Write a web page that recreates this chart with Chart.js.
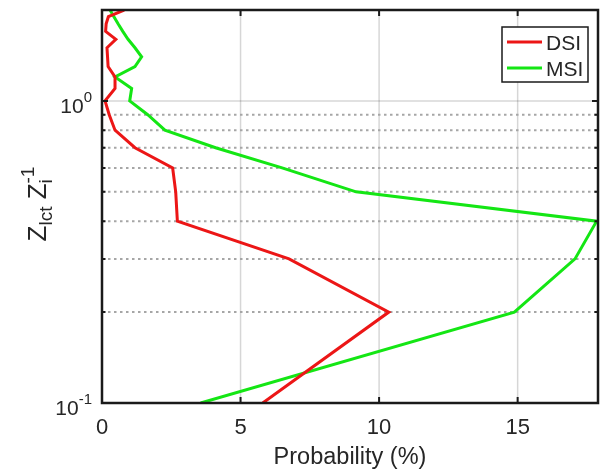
<!DOCTYPE html>
<html>
<head>
<meta charset="utf-8">
<script src="https://cdn.jsdelivr.net/npm/chart.js@4"></script>
<style>
  html, body { margin: 0; padding: 0; background: #fff; }
  #wrap { width: 600px; height: 472px; }
</style>
</head>
<body>
<div id="wrap"><canvas id="chart" width="600" height="472"></canvas></div>
<script>
// Height levels (Z_lct / Z_i), bottom to top
const levels = [0.1, 0.2, 0.3, 0.4, 0.5, 0.6, 0.7, 0.8, 0.9, 1.0,
                1.1, 1.2, 1.3, 1.4, 1.5, 1.6, 1.7, 1.8, 1.9, 2.0];
// Probability (%) at each level
const dsiValues = [5.8, 10.35, 6.75, 2.72, 2.66, 2.55, 1.19, 0.47, 0.26, 0.11,
                   0.47, 0.47, 0.22, 0.2, 0.18, 0.5, 0.13, 0.15, 0.23, 0.8];
const msiValues = [3.56, 14.88, 17.07, 17.85, 9.17, 6.5, 4.1, 2.27, 1.65, 1.0,
                   1.07, 0.47, 1.19, 1.43, 1.19, 0.94, 0.75, 0.58, 0.43, 0.29];
const seriesNames = ["DSI", "MSI"];

const xTicks = [0, 5, 10, 15];
const yMajorTicks = [0.1, 1];
const yMajorLabels = [["10", "-1"], ["10", "0"]];
const yMinorTicks = [0.2, 0.3, 0.4, 0.5, 0.6, 0.7, 0.8, 0.9];

const FONT = "'Liberation Sans', Arial, sans-serif";
const TEXT = "#262626";

function toPoints(values) {
  return values.map((v, i) => ({ x: v, y: levels[i] }));
}

const matlabAxes = {
  id: "matlabAxes",
  beforeDatasetsDraw(chart) {
    const { ctx, chartArea: a, scales: { x, y } } = chart;
    ctx.save();
    // solid grid lines
    ctx.strokeStyle = "rgba(0,0,0,0.16)";
    ctx.lineWidth = 1.5;
    xTicks.forEach((v) => {
      if (v === 0) return;
      const px = x.getPixelForValue(v);
      ctx.beginPath(); ctx.moveTo(px, a.top); ctx.lineTo(px, a.bottom); ctx.stroke();
    });
    yMajorTicks.forEach((v) => {
      const py = y.getPixelForValue(v);
      if (Math.abs(py - a.bottom) < 1) return;
      ctx.beginPath(); ctx.moveTo(a.left, py); ctx.lineTo(a.right, py); ctx.stroke();
    });
    // dotted minor grid
    ctx.strokeStyle = "#a6a6a6";
    ctx.lineWidth = 2;
    ctx.setLineDash([2.5, 3.5]);
    yMinorTicks.forEach((v) => {
      const py = y.getPixelForValue(v);
      ctx.beginPath(); ctx.moveTo(a.left, py); ctx.lineTo(a.right, py); ctx.stroke();
    });
    ctx.restore();
  },
  afterDatasetsDraw(chart) {
    const { ctx, chartArea: a, scales: { x, y } } = chart;
    ctx.save();
    // box
    ctx.strokeStyle = "#1a1a1a";
    ctx.lineWidth = 2.5;
    ctx.strokeRect(a.left, a.top, a.right - a.left, a.bottom - a.top);

    // inward ticks
    ctx.lineWidth = 2;
    xTicks.forEach((v) => {
      const px = x.getPixelForValue(v);
      ctx.beginPath();
      ctx.moveTo(px, a.bottom); ctx.lineTo(px, a.bottom - 6);
      ctx.moveTo(px, a.top); ctx.lineTo(px, a.top + 6);
      ctx.stroke();
    });
    yMajorTicks.concat(yMinorTicks).forEach((v) => {
      const py = y.getPixelForValue(v);
      const len = yMajorTicks.includes(v) ? 6 : 3.5;
      ctx.beginPath();
      ctx.moveTo(a.left, py); ctx.lineTo(a.left + len, py);
      ctx.moveTo(a.right, py); ctx.lineTo(a.right - len, py);
      ctx.stroke();
    });

    // x tick labels
    ctx.fillStyle = TEXT;
    ctx.font = "22px " + FONT;
    ctx.textAlign = "center";
    ctx.textBaseline = "alphabetic";
    xTicks.forEach((v) => {
      ctx.fillText(String(v), x.getPixelForValue(v), a.bottom + 31);
    });

    // y tick labels with superscripts
    ctx.textAlign = "left";
    yMajorTicks.forEach((v, i) => {
      const py = y.getPixelForValue(v);
      const [base, sup] = yMajorLabels[i];
      ctx.font = "15px " + FONT;
      const supW = ctx.measureText(sup).width;
      ctx.font = "21px " + FONT;
      const baseW = ctx.measureText(base).width;
      const supX = a.left - 10 - supW;
      ctx.fillText(base, supX - baseW, py + 12);
      ctx.font = "15px " + FONT;
      ctx.fillText(sup, supX, py + 1);
    });

    // x axis title
    ctx.textAlign = "center";
    ctx.font = "23.5px " + FONT;
    ctx.fillText("Probability (%)", (a.left + a.right) / 2, a.bottom + 61);

    // y axis title: Z_lct Z_i^-1
    ctx.save();
    ctx.translate(46, 204);
    ctx.rotate(-Math.PI / 2);
    ctx.textAlign = "left";
    const big = "26px " + FONT, small = "19px " + FONT;
    const parts = [
      { t: "Z", f: big, dy: 0 },
      { t: "lct", f: small, dy: 6 },
      { t: " Z", f: big, dy: 0 },
    ];
    let total = 0;
    parts.forEach((p) => { ctx.font = p.f; p.w = ctx.measureText(p.t).width; total += p.w; });
    ctx.font = small;
    const subW = Math.max(ctx.measureText("i").width, ctx.measureText("-1").width);
    total += subW;
    let cx = -total / 2;
    parts.forEach((p) => { ctx.font = p.f; ctx.fillText(p.t, cx, p.dy); cx += p.w; });
    ctx.font = small;
    ctx.fillText("i", cx, 6);
    ctx.fillText("-1", cx, -12);
    ctx.restore();

    // legend
    const lx = a.right - 96, ly = a.top + 17, lw = 86, lh = 55;
    ctx.fillStyle = "#fff";
    ctx.fillRect(lx, ly, lw, lh);
    ctx.strokeStyle = "#1a1a1a";
    ctx.lineWidth = 1.5;
    ctx.strokeRect(lx, ly, lw, lh);
    chart.data.datasets.forEach((ds, i) => {
      const rowY = ly + 15 + i * 26;
      ctx.strokeStyle = ds.borderColor;
      ctx.lineWidth = 3;
      ctx.beginPath(); ctx.moveTo(lx + 5, rowY); ctx.lineTo(lx + 40, rowY); ctx.stroke();
      ctx.fillStyle = TEXT;
      ctx.font = "21px " + FONT;
      ctx.textAlign = "left";
      ctx.fillText(ds.label, lx + 44, rowY + 8);
    });
    ctx.restore();
  },
};

new Chart(document.getElementById("chart"), {
  type: "scatter",
  data: {
    datasets: [
      {
        label: seriesNames[0],
        data: toPoints(dsiValues),
        showLine: true,
        borderColor: "#ec1616",
        borderWidth: 3,
        pointRadius: 0,
        tension: 0,
      },
      {
        label: seriesNames[1],
        data: toPoints(msiValues),
        showLine: true,
        borderColor: "#14e614",
        borderWidth: 3,
        pointRadius: 0,
        tension: 0,
      },
    ],
  },
  options: {
    responsive: false,
    animation: false,
    devicePixelRatio: 1,
    layout: { padding: { left: 102, right: 2, top: 10, bottom: 69 } },
    scales: {
      x: { type: "linear", min: 0, max: 17.9, display: false },
      y: { type: "logarithmic", min: 0.1, max: 2, display: false },
    },
    plugins: {
      legend: { display: false },
      tooltip: { enabled: false },
    },
  },
  plugins: [matlabAxes],
});
</script>
</body>
</html>
